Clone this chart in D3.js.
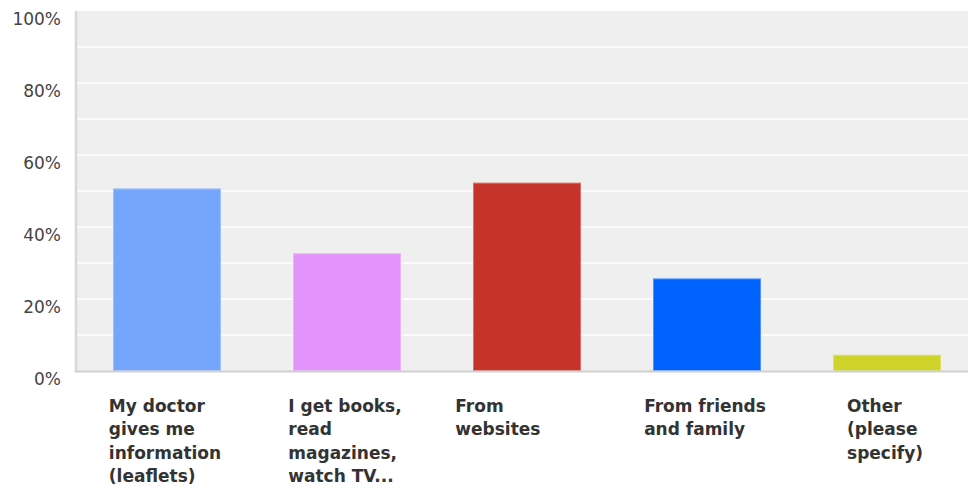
<!DOCTYPE html>
<html>
<head>
<meta charset="utf-8">
<script src="https://cdn.jsdelivr.net/npm/d3@7"></script>
<style>
  body { margin: 0; background: #fff; }
  svg { display: block; font-family: "DejaVu Sans", Verdana, sans-serif; }
</style>
</head>
<body>
<div id="chart"></div>
<script>
// data
const categories = [
  ["My doctor", "gives me", "information", "(leaflets)"],
  ["I get books,", "read", "magazines,", "watch TV..."],
  ["From", "websites"],
  ["From friends", "and family"],
  ["Other", "(please", "specify)"]
];
const values = [50.7, 32.7, 52.3, 25.7, 4.5];
const colors = ["#76A5FC", "#E394FA", "#C6332A", "#0062FF", "#D0D32A"];
const yTicks = [0, 20, 40, 60, 80, 100];
const gridTicks = [10, 20, 30, 40, 50, 60, 70, 80, 90];

const width = 968, height = 490;
const margin = { top: 11, left: 77, bottom: 119 };
const plotBottom = height - margin.bottom;

const svg = d3.select("#chart").append("svg")
  .attr("width", width).attr("height", height);

const x = d3.scaleBand()
  .domain(d3.range(categories.length))
  .range([margin.left, margin.left + 900])
  .paddingInner(0.4).paddingOuter(0.2);

const y = d3.scaleLinear().domain([0, 100]).range([plotBottom, margin.top]);

// background
svg.append("rect")
  .attr("x", margin.left).attr("y", margin.top)
  .attr("width", width - margin.left).attr("height", plotBottom - margin.top)
  .attr("fill", "#efefef");

// grid
svg.selectAll(".grid").data(gridTicks).enter().append("line")
  .attr("class", "grid")
  .attr("x1", margin.left).attr("x2", width)
  .attr("y1", d => y(d)).attr("y2", d => y(d))
  .attr("stroke", "#fff").attr("stroke-width", 1.5);

// bars
svg.selectAll(".bar").data(values).enter().append("rect")
  .attr("class", "bar")
  .attr("x", (d, i) => x(i))
  .attr("width", x.bandwidth())
  .attr("y", d => y(d))
  .attr("height", d => plotBottom - y(d))
  .attr("fill", (d, i) => colors[i]);

svg.selectAll(".barEdge").data(values).enter().append("rect")
  .attr("class", "barEdge")
  .attr("x", (d, i) => x(i) + 0.5)
  .attr("width", x.bandwidth() - 1)
  .attr("y", d => y(d) + 0.5)
  .attr("height", d => plotBottom - y(d) - 1)
  .attr("fill", "none")
  .attr("stroke", "#fff").attr("stroke-opacity", 0.3);

// axes lines
svg.append("line")
  .attr("x1", margin.left - 1).attr("x2", margin.left - 1)
  .attr("y1", margin.top).attr("y2", plotBottom + 1)
  .attr("stroke", "#d8d8d8").attr("stroke-width", 2.5);
svg.append("line")
  .attr("x1", margin.left - 2).attr("x2", width)
  .attr("y1", plotBottom + 0.5).attr("y2", plotBottom + 0.5)
  .attr("stroke", "#d0d0d0").attr("stroke-width", 2);

// y labels
svg.selectAll(".ylab").data(yTicks).enter().append("text")
  .attr("class", "ylab")
  .attr("x", 61)
  .attr("y", d => y(d) + 14)
  .attr("text-anchor", "end")
  .attr("font-size", 17)
  .attr("fill", "#444")
  .text(d => d + "%");

// x labels
const xl = svg.selectAll(".xlab").data(categories).enter().append("text")
  .attr("class", "xlab")
  .attr("font-size", 17)
  .attr("font-weight", "bold")
  .attr("fill", "#333");

xl.selectAll("tspan").data(d => d).enter().append("tspan")
  .attr("dy", (d, i) => i === 0 ? 0 : 23.3)
  .text(d => d);

// centre the wrapped block under the bar; short phrases keep their unwrapped width
const wrapLimit = 150;
xl.each(function (d, i) {
  const t = d3.select(this);
  let w = 0;
  t.selectAll("tspan").each(function () { w = Math.max(w, this.getComputedTextLength()); });
  const probe = svg.append("text").attr("font-size", 17).attr("font-weight", "bold").text(d.join(" "));
  const full = probe.node().getComputedTextLength();
  probe.remove();
  if (full < wrapLimit) w = full;
  const left = x(i) + x.bandwidth() / 2 - 2 - w / 2;
  t.attr("y", 412);
  t.selectAll("tspan").attr("x", left);
});
</script>
</body>
</html>
